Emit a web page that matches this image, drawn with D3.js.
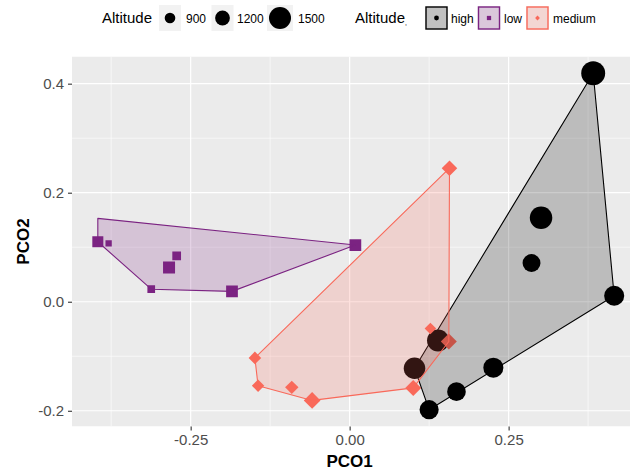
<!DOCTYPE html>
<html>
<head>
<meta charset="utf-8">
<script src="https://cdn.jsdelivr.net/npm/d3@7"></script>
<style>
  body { margin: 0; background: #fff; }
  svg { display: block; }
  text { font-family: "Liberation Sans", Arial, sans-serif; }
</style>
</head>
<body>
<svg id="chart" width="630" height="472"></svg>
<script>
// ---- data -------------------------------------------------------------
const groups = ["high", "low", "medium"];
const groupColors = ["#000000", "#7B2382", "#F9695A"];
const groupShapes = ["circle", "square", "diamond"];

const highPCO1 = [0.383, 0.301, 0.286, 0.416, 0.226, 0.168, 0.125, 0.102, 0.139];
const highPCO2 = [0.419, 0.154, 0.071, 0.011, -0.121, -0.165, -0.198, -0.122, -0.071];
const highAltitude = [1580, 1520, 1330, 1420, 1420, 1360, 1380, 1480, 1500];

const lowPCO1 = [-0.396, -0.379, -0.284, -0.272, -0.312, -0.185, 0.009, -0.396];
const lowPCO2 = [0.110, 0.107, 0.063, 0.084, 0.023, 0.019, 0.104, 0.153];
const lowAltitude = [1030, 540, 1110, 820, 700, 1090, 1090, null];

const mediumPCO1 = [0.157, -0.149, -0.144, -0.091, -0.059, 0.100, 0.127, 0.156];
const mediumPCO2 = [0.245, -0.103, -0.154, -0.157, -0.181, -0.158, -0.049, -0.073];
const mediumAltitude = [1230, 1040, 1030, 1100, 1280, 1250, 970, 1250];

const sizeBreaks = [900, 1200, 1500];
const xTickValues = [-0.25, 0, 0.25];
const xTickLabels = ["-0.25", "0.00", "0.25"];
const yTickValues = [-0.2, 0, 0.2, 0.4];
const yTickLabels = ["-0.2", "0.0", "0.2", "0.4"];

// ---- assemble rows ----------------------------------------------------
const series = [
  { pco1: highPCO1, pco2: highPCO2, alt: highAltitude },
  { pco1: lowPCO1, pco2: lowPCO2, alt: lowAltitude },
  { pco1: mediumPCO1, pco2: mediumPCO2, alt: mediumAltitude }
];
const rows = [];
series.forEach((s, gi) => {
  s.pco1.forEach((v, i) => rows.push({ group: groups[gi], x: v, y: s.pco2[i], alt: s.alt[i] }));
});

// ---- layout -----------------------------------------------------------
const svg = d3.select("#chart");
const panel = { left: 72, top: 56.5, width: 568, height: 370 };

function expand(ext) {
  const pad = (ext[1] - ext[0]) * 0.05;
  return [ext[0] - pad, ext[1] + pad];
}
const x = d3.scaleLinear()
  .domain(expand(d3.extent(rows, d => d.x)))
  .range([panel.left, panel.left + panel.width]);
const y = d3.scaleLinear()
  .domain(expand(d3.extent(rows, d => d.y)))
  .range([panel.top + panel.height, panel.top]);

const color = d3.scaleOrdinal().domain(groups).range(groupColors);
const shape = d3.scaleOrdinal().domain(groups).range(groupShapes);
// altitude -> marker radius (px)
const radius = d3.scaleLinear().domain([300, 900, 1200, 1500]).range([2.4, 5.3, 7.4, 11]);

const diamond = {
  draw(ctx, size) {
    const h = Math.sqrt(size / 2);
    ctx.moveTo(0, -h); ctx.lineTo(h, 0); ctx.lineTo(0, h); ctx.lineTo(-h, 0); ctx.closePath();
  }
};
function markerPath(kind, r) {
  if (kind === "square") return d3.symbol(d3.symbolSquare, Math.PI * r * r)();
  if (kind === "diamond") return d3.symbol(diamond, 2 * r * r)();
  return d3.symbol(d3.symbolCircle, Math.PI * r * r)();
}

// ---- panel ------------------------------------------------------------
svg.append("defs").append("clipPath").attr("id", "panel-clip")
  .append("rect")
  .attr("x", panel.left).attr("y", panel.top)
  .attr("width", panel.width).attr("height", panel.height);

const plot = svg.append("g").attr("clip-path", "url(#panel-clip)");
plot.append("rect")
  .attr("x", panel.left).attr("y", panel.top)
  .attr("width", panel.width).attr("height", panel.height)
  .attr("fill", "#EBEBEB");

// minor grid (midpoints between major breaks)
const xMinor = d3.range(-0.375, 0.6, 0.25);
const yMinor = d3.range(-0.3, 0.5, 0.2);
const xMajor = d3.range(-0.25, 0.6, 0.25);
plot.selectAll(".xminor").data(xMinor).join("line")
  .attr("x1", d => x(d)).attr("x2", d => x(d))
  .attr("y1", panel.top).attr("y2", panel.top + panel.height)
  .attr("stroke", "#fff").attr("stroke-width", 0.6);
plot.selectAll(".yminor").data(yMinor).join("line")
  .attr("y1", d => y(d)).attr("y2", d => y(d))
  .attr("x1", panel.left).attr("x2", panel.left + panel.width)
  .attr("stroke", "#fff").attr("stroke-width", 0.6);
// major grid
plot.selectAll(".xmajor").data(xMajor).join("line")
  .attr("x1", d => x(d)).attr("x2", d => x(d))
  .attr("y1", panel.top).attr("y2", panel.top + panel.height)
  .attr("stroke", "#fff").attr("stroke-width", 1.2);
plot.selectAll(".ymajor").data(yTickValues).join("line")
  .attr("y1", d => y(d)).attr("y2", d => y(d))
  .attr("x1", panel.left).attr("x2", panel.left + panel.width)
  .attr("stroke", "#fff").attr("stroke-width", 1.2);

// points
plot.selectAll(".pt").data(rows.filter(d => d.alt != null)).join("path")
  .attr("transform", d => `translate(${x(d.x)},${y(d.y)})`)
  .attr("d", d => markerPath(shape(d.group), radius(d.alt)))
  .attr("fill", d => color(d.group));

// convex hulls per group, drawn over the points
groups.forEach(g => {
  const pts = rows.filter(d => d.group === g).map(d => [x(d.x), y(d.y)]);
  const hull = d3.polygonHull(pts);
  plot.append("path")
    .attr("d", "M" + hull.join("L") + "Z")
    .attr("fill", color(g)).attr("fill-opacity", 0.2)
    .attr("stroke", color(g)).attr("stroke-width", 1.1)
    .attr("stroke-linejoin", "round");
});

// ---- axes -------------------------------------------------------------
const xAxis = d3.axisBottom(x).tickValues(xTickValues)
  .tickFormat((d, i) => xTickLabels[i]).tickSize(4).tickPadding(4);
const gx = svg.append("g").attr("transform", `translate(0,${panel.top + panel.height})`).call(xAxis);
const yAxis = d3.axisLeft(y).tickValues(yTickValues)
  .tickFormat((d, i) => yTickLabels[i]).tickSize(4).tickPadding(4);
const gy = svg.append("g").attr("transform", `translate(${panel.left},0)`).call(yAxis);
[gx, gy].forEach(g => {
  g.select(".domain").remove();
  g.selectAll(".tick line").attr("stroke", "#333").attr("stroke-width", 1.1);
  g.selectAll(".tick text").attr("fill", "#4D4D4D").attr("font-size", 15)
    .style("font-family", '"Liberation Sans", Arial, sans-serif');
});

svg.append("text")
  .attr("x", x(0)).attr("y", 467)
  .attr("text-anchor", "middle").attr("font-size", 17).attr("font-weight", "bold")
  .text("PCO1");
svg.append("text")
  .attr("transform", `translate(29,${panel.top + panel.height / 2}) rotate(-90)`)
  .attr("text-anchor", "middle").attr("font-size", 17).attr("font-weight", "bold")
  .text("PCO2");

// ---- legends ----------------------------------------------------------
const legendY = 18;
const sizeLegend = svg.append("g");
sizeLegend.append("text").attr("x", 102).attr("y", legendY + 5)
  .attr("font-size", 15).attr("fill", "#000").text("Altitude");
const sizeKeyX = [170, 222.5, 280];
const sizeLabelX = [186, 237, 298];
sizeBreaks.forEach((b, i) => {
  const r = radius(b);
  const w = Math.max(22, 2 * r + 4);
  sizeLegend.append("rect")
    .attr("x", sizeKeyX[i] - w / 2).attr("y", legendY - 13)
    .attr("width", w).attr("height", 26).attr("fill", "#F2F2F2");
  sizeLegend.append("circle").attr("cx", sizeKeyX[i]).attr("cy", legendY).attr("r", r).attr("fill", "#000");
  sizeLegend.append("text").attr("x", sizeLabelX[i]).attr("y", legendY + 4.5)
    .attr("font-size", 12).attr("fill", "#000").text(b);
});

const groupLegend = svg.append("g");
groupLegend.append("text").attr("x", 355).attr("y", legendY + 5)
  .attr("font-size", 15).attr("fill", "#000").text("Altitude")
  .append("tspan").attr("font-size", 7).attr("dy", 2).text(",");
const groupKeyX = [436.5, 489, 537.5];
const groupLabelX = [451, 504, 553];
groups.forEach((g, i) => {
  groupLegend.append("rect")
    .attr("x", groupKeyX[i] - 11.5).attr("y", legendY - 12)
    .attr("width", 23).attr("height", 24).attr("fill", "#F2F2F2");
  groupLegend.append("rect")
    .attr("x", groupKeyX[i] - 10.5).attr("y", legendY - 11)
    .attr("width", 21).attr("height", 22)
    .attr("fill", color(g)).attr("fill-opacity", 0.2)
    .attr("stroke", color(g)).attr("stroke-width", 1.4);
  groupLegend.append("path")
    .attr("transform", `translate(${groupKeyX[i]},${legendY})`)
    .attr("d", markerPath(shape(g), 2.4))
    .attr("fill", color(g));
  groupLegend.append("text").attr("x", groupLabelX[i]).attr("y", legendY + 4.5)
    .attr("font-size", 12).attr("fill", "#000").text(g);
});
</script>
</body>
</html>
